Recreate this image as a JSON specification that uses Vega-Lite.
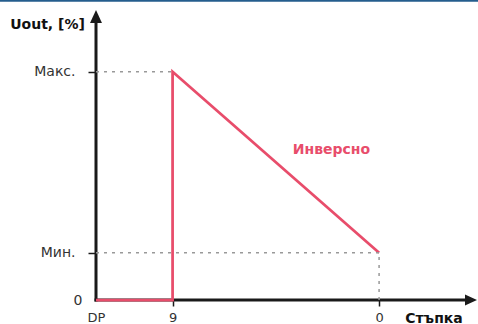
{
  "$schema": "https://vega.github.io/schema/vega-lite/v6.json",
  "width": 381,
  "height": 290,
  "padding": {"left": 96, "top": 10, "right": 1, "bottom": 24},
  "autosize": {"type": "none"},
  "background": "white",
  "config": {
    "view": {"stroke": null},
    "font": "DejaVu Sans",
    "axis": {
      "grid": false,
      "domain": false,
      "tickWidth": 1.5,
      "labelFlush": false,
      "labelFont": "DejaVu Sans",
      "labelColor": "#333333",
      "titleFont": "DejaVu Sans",
      "titleFontSize": 14,
      "titleFontWeight": "bold",
      "titleColor": "#111111"
    }
  },
  "datasets": {
    "curve": [
      {"x": 0, "y": 0, "o": 1},
      {"x": 20.1, "y": 0, "o": 2},
      {"x": 20.1, "y": 78.7, "o": 3},
      {"x": 74.3, "y": 16.3, "o": 4}
    ],
    "guides": [
      {"x": 0, "x2": 20.1, "y": 78.7, "y2": 78.7},
      {"x": 0, "x2": 74.3, "y": 16.3, "y2": 16.3},
      {"x": 74.3, "x2": 74.3, "y": 0, "y2": 16.3}
    ],
    "axes": [
      {"x": 0, "x2": 0, "y": 0, "y2": 97},
      {"x": 0, "x2": 97, "y": 0, "y2": 0}
    ],
    "yarrow": [{"x": 0, "y": 100}],
    "xarrow": [{"x": 100, "y": 0}],
    "label": [{"x": 61.8, "y": 51.6, "text": "Инверсно"}],
    "frame": [{"x": -26, "x2": 101, "y": 103.2}]
  },
  "layer": [
    {
      "data": {"name": "axes"},
      "mark": {"type": "rule", "color": "#1a1a1a", "strokeWidth": 3, "strokeCap": "square"},
      "encoding": {
        "x": {
          "field": "x", "type": "quantitative",
          "scale": {"domain": [0, 100], "nice": false, "zero": false},
          "axis": {
            "title": "Стъпка",
            "values": [0, 20.1, 74.3],
            "labelExpr": "datum.value == 0 ? 'DP' : (datum.value < 50 ? '9' : '0')",
            "tickColor": {"condition": {"test": "datum.value == 0", "value": "transparent"}, "value": "#1a1a1a"},
            "tickSize": 6,
            "labelFontSize": 13,
            "labelPadding": 5,
            "titleX": 337.5, "titleY": 22, "titleAlign": "center", "titleBaseline": "alphabetic"
          }
        },
        "x2": {"field": "x2"},
        "y": {
          "field": "y", "type": "quantitative",
          "scale": {"domain": [0, 100], "nice": false, "zero": false},
          "axis": {
            "title": "Uout, [%]",
            "values": [0, 16.3, 78.7],
            "labelExpr": "datum.value == 0 ? '0' : (datum.value < 50 ? 'Мин.' : 'Макс.')",
            "tickColor": {"condition": {"test": "datum.value == 0", "value": "transparent"}, "value": "#1a1a1a"},
            "tickSize": 8,
            "labelFontSize": 14,
            "labelPadding": {"condition": {"test": "datum.value == 0", "value": 6}, "value": 13},
            "titleAngle": 0, "titleX": -49, "titleY": 18, "titleAlign": "center", "titleBaseline": "alphabetic"
          }
        },
        "y2": {"field": "y2"}
      }
    },
    {
      "data": {"name": "curve"},
      "mark": {"type": "line", "color": "#e84d6b", "strokeWidth": 2.75, "strokeJoin": "miter", "strokeCap": "butt"},
      "encoding": {
        "x": {"field": "x", "type": "quantitative"},
        "y": {"field": "y", "type": "quantitative"},
        "order": {"field": "o", "type": "quantitative"}
      }
    },
    {
      "data": {"name": "guides"},
      "mark": {"type": "rule", "color": "#999999", "strokeWidth": 1.5, "strokeDash": [3, 5]},
      "encoding": {
        "x": {"field": "x", "type": "quantitative"},
        "x2": {"field": "x2"},
        "y": {"field": "y", "type": "quantitative"},
        "y2": {"field": "y2"}
      }
    },
    {
      "data": {"name": "yarrow"},
      "mark": {"type": "point", "shape": "M0,0L0.92,2L-0.92,2Z", "size": 169, "filled": true, "color": "#1a1a1a", "opacity": 1},
      "encoding": {
        "x": {"field": "x", "type": "quantitative"},
        "y": {"field": "y", "type": "quantitative"}
      }
    },
    {
      "data": {"name": "xarrow"},
      "mark": {"type": "point", "shape": "M0,0L-2,-0.92L-2,0.92Z", "size": 144, "filled": true, "color": "#1a1a1a", "opacity": 1},
      "encoding": {
        "x": {"field": "x", "type": "quantitative"},
        "y": {"field": "y", "type": "quantitative"}
      }
    },
    {
      "data": {"name": "label"},
      "mark": {"type": "text", "font": "DejaVu Sans", "fontSize": 14, "fontWeight": "bold", "color": "#e84d6b", "align": "center", "baseline": "middle"},
      "encoding": {
        "x": {"field": "x", "type": "quantitative"},
        "y": {"field": "y", "type": "quantitative"},
        "text": {"field": "text"}
      }
    },
    {
      "data": {"name": "frame"},
      "mark": {"type": "rule", "color": "#245d8d", "strokeWidth": 2},
      "encoding": {
        "x": {"field": "x", "type": "quantitative"},
        "x2": {"field": "x2"},
        "y": {"field": "y", "type": "quantitative"}
      }
    }
  ]
}
